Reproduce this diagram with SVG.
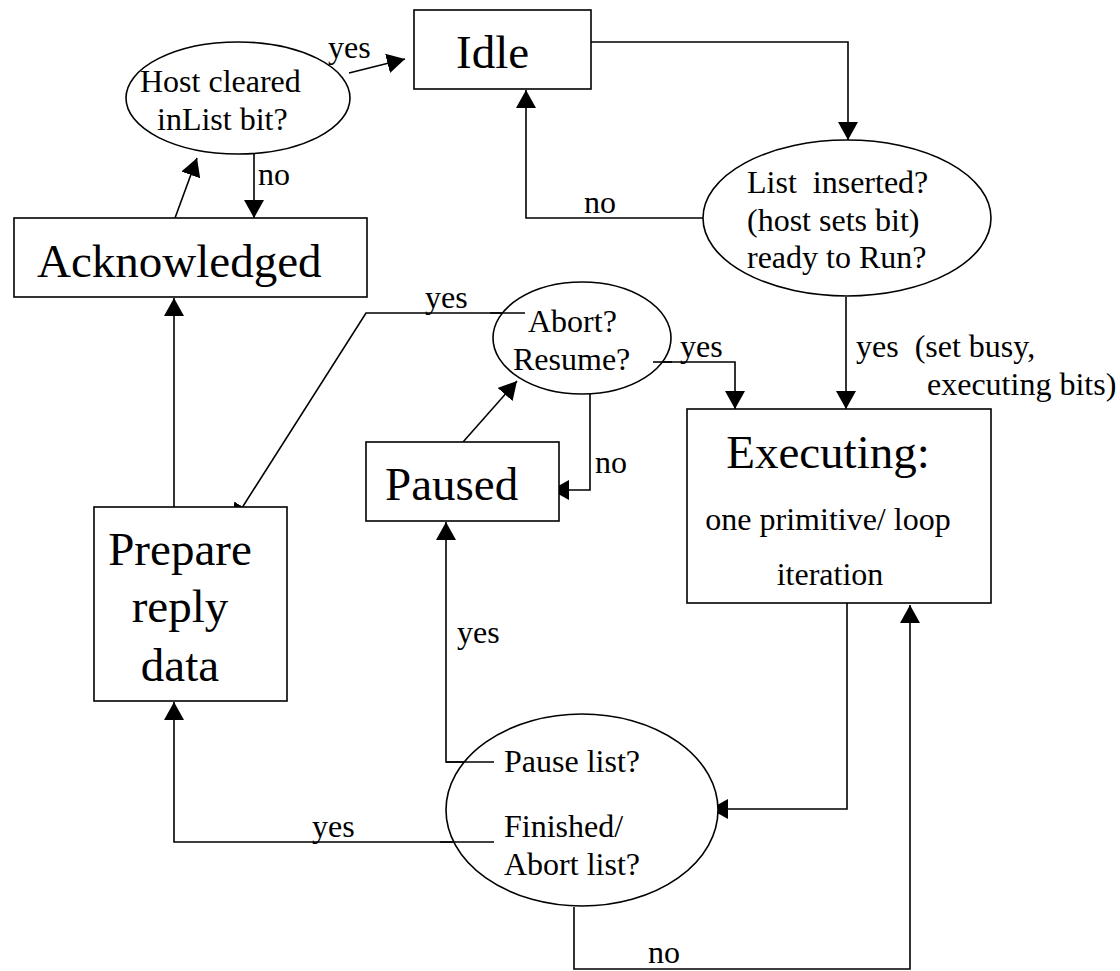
<svg xmlns="http://www.w3.org/2000/svg" width="1120" height="971" viewBox="0 0 1120 971">
<style>
  .shape { fill: #ffffff; stroke: #000000; stroke-width: 1.6; }
  .conn { fill: none; stroke: #000000; stroke-width: 1.6; marker-end: url(#arrow); }
  text { font-family: "Liberation Serif", "Times New Roman", serif; fill: #000000; white-space: pre; }
  .big { font-size: 47px; }
  .small { font-size: 32px; }
  .mid { text-anchor: middle; }
</style>
<defs>
  <marker id="arrow" markerUnits="userSpaceOnUse" markerWidth="20" markerHeight="20" refX="18" refY="10" orient="auto">
    <path d="M0,0 L18,10 L0,20 z" fill="#000000"/>
  </marker>
</defs>
<rect width="1120" height="971" fill="#ffffff"/>

<g id="connectors">
  <line class="conn" x1="349" y1="73" x2="405" y2="59"/>
  <path class="conn" d="M254,154 V218"/>
  <line class="conn" x1="175" y1="218" x2="197" y2="158"/>
  <path class="conn" d="M591,42 H848 V140"/>
  <path class="conn" d="M703,218 H526 V90"/>
  <path class="conn" d="M846,297 V409"/>
  <path class="conn" d="M653,362 H735 V409"/>
  <path class="conn" d="M525,313 H366 L233,522"/>
  <path class="conn" d="M590,394 V490 H551"/>
  <line class="conn" x1="463" y1="442" x2="517" y2="381"/>
  <path class="conn" d="M174,507 V298"/>
  <path class="conn" d="M494,762 H446 V522"/>
  <path class="conn" d="M494,842 H174 V702"/>
  <path class="conn" d="M847,603 V809 H710"/>
  <path class="conn" d="M574,907 V969 H910 V605"/>
  <text class="small" x="328" y="58">yes</text>
  <text class="small" x="258" y="185">no</text>
  <text class="small" x="584" y="213">no</text>
  <text class="small" x="856" y="357">yes  (set busy,</text>
  <text class="small" x="927" y="395">executing bits)</text>
  <text class="small" x="425" y="308">yes</text>
  <text class="small" x="680" y="357">yes</text>
  <text class="small" x="595" y="473">no</text>
  <text class="small" x="457" y="643">yes</text>
  <text class="small" x="312" y="837">yes</text>
  <text class="small" x="648" y="963">no</text>
</g>

<g id="idle">
  <rect class="shape" x="414" y="10" width="177" height="79"/>
  <text class="big" x="456" y="68">Idle</text>
</g>

<g id="host-cleared">
  <ellipse class="shape" cx="238" cy="98" rx="112" ry="56"/>
  <text class="small" x="140" y="92">Host cleared</text>
  <text class="small" x="157" y="130">inList bit?</text>
</g>

<g id="acknowledged">
  <rect class="shape" x="14" y="218" width="353" height="79"/>
  <text class="big" x="37" y="277">Acknowledged</text>
</g>

<g id="list-inserted">
  <ellipse class="shape" cx="847" cy="218" rx="144" ry="78"/>
  <text class="small" x="747" y="193">List  inserted?</text>
  <text class="small" x="747" y="231">(host sets bit)</text>
  <text class="small" x="747" y="268">ready to Run?</text>
</g>

<g id="abort-resume">
  <ellipse class="shape" cx="582" cy="338" rx="89" ry="56"/>
  <text class="small" x="528" y="332">Abort?</text>
  <text class="small" x="513" y="370">Resume?</text>
</g>

<g id="paused">
  <rect class="shape" x="366" y="442" width="193" height="79"/>
  <text class="big" x="385" y="500">Paused</text>
</g>

<g id="executing">
  <rect class="shape" x="687" y="409" width="304" height="194"/>
  <text class="big mid" x="828" y="468">Executing:</text>
  <text class="small mid" x="828" y="530">one primitive/ loop</text>
  <text class="small mid" x="830" y="585">iteration</text>
</g>

<g id="prepare-reply">
  <rect class="shape" x="94" y="507" width="193" height="194"/>
  <text class="big mid" x="180" y="565">Prepare</text>
  <text class="big mid" x="180" y="622">reply</text>
  <text class="big mid" x="180" y="681">data</text>
</g>

<g id="pause-finished">
  <ellipse class="shape" cx="582" cy="810" rx="136" ry="96"/>
  <text class="small" x="504" y="772">Pause list?</text>
  <text class="small" x="504" y="837">Finished/</text>
  <text class="small" x="504" y="875">Abort list?</text>
</g>

<g id="connector-overlays">
  <line x1="494" y1="762" x2="446" y2="762" stroke="#000" stroke-width="1.6"/>
  <line x1="525" y1="313" x2="490" y2="313" stroke="#000" stroke-width="1.6"/>
  <line x1="653" y1="362" x2="672" y2="362" stroke="#000" stroke-width="1.6"/>
  <line x1="494" y1="842" x2="440" y2="842" stroke="#000" stroke-width="1.6"/>
</g>
</svg>
